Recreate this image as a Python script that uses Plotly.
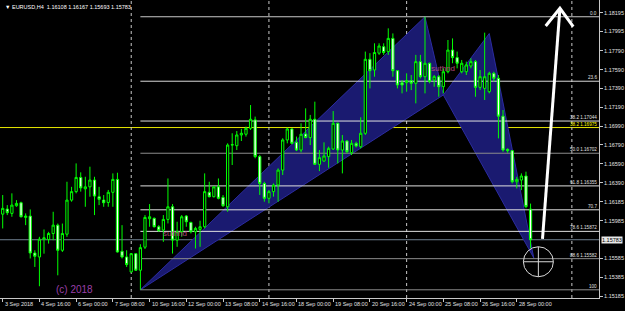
import plotly.graph_objects as go

# ---------------- data ----------------
bar_index = list(range(116))
open_ = [1.16055, 1.16109, 1.16063, 1.16144, 1.16176, 1.16020, 1.16034, 1.15642, 1.15600, 1.15789,
         1.15785, 1.15849, 1.15938, 1.15671, 1.15842, 1.16204, 1.16294, 1.16445, 1.16324, 1.16345,
         1.16417, 1.16240, 1.16204, 1.16179, 1.16287, 1.16424, 1.15660, 1.15600, 1.15441, 1.15635,
         1.15459, 1.15704, 1.16006, 1.16010, 1.15921, 1.15886, 1.15999, 1.16133, 1.15779, 1.15868,
         1.16035, 1.15967, 1.15868, 1.15893, 1.15921, 1.16287, 1.16240, 1.16345, 1.16233, 1.16133,
         1.16789, 1.16782, 1.16896, 1.16904, 1.16967, 1.17056, 1.16666, 1.16381, 1.16223, 1.16294,
         1.16364, 1.16523, 1.16843, 1.16960, 1.16818, 1.16736, 1.16907, 1.16868, 1.17063, 1.16584,
         1.16619, 1.16666, 1.16747, 1.17020, 1.16736, 1.16832, 1.16707, 1.16807, 1.16771, 1.16914,
         1.17700, 1.17586, 1.17765, 1.17834, 1.17782, 1.17922, 1.17579, 1.17452, 1.17452, 1.17473,
         1.17445, 1.17675, 1.17515, 1.17658, 1.17480, 1.17515, 1.17409, 1.17568, 1.17798, 1.17718,
         1.17568, 1.17568, 1.17629, 1.17675, 1.17402, 1.17391, 1.17356, 1.17551, 1.17498, 1.17096,
         1.16743, 1.16729, 1.16399, 1.16417, 1.16460, 1.16108]
high = [1.16258, 1.16151, 1.16276, 1.16204, 1.16187, 1.16063, 1.16105, 1.15671, 1.15814, 1.15892,
        1.15867, 1.16080, 1.15955, 1.15955, 1.16399, 1.16345, 1.16594, 1.16499, 1.16452, 1.16559,
        1.16452, 1.16345, 1.16258, 1.16312, 1.16488, 1.16495, 1.15938, 1.15671, 1.15642, 1.15642,
        1.15735, 1.16045, 1.16162, 1.16020, 1.15938, 1.16045, 1.16434, 1.16162, 1.15974, 1.16045,
        1.16045, 1.15974, 1.15921, 1.15985, 1.16488, 1.16399, 1.16352, 1.16434, 1.16258, 1.16807,
        1.16914, 1.16938, 1.16960, 1.16985, 1.17214, 1.17091, 1.16684, 1.16399, 1.16312, 1.16381,
        1.16541, 1.16861, 1.16974, 1.16967, 1.16879, 1.17020, 1.17179, 1.17109, 1.17250, 1.16736,
        1.16818, 1.16772, 1.17150, 1.17027, 1.16896, 1.16843, 1.16843, 1.16825, 1.17084, 1.17782,
        1.17765, 1.17870, 1.17870, 1.17870, 1.18029, 1.17975, 1.17586, 1.17480, 1.17551, 1.17533,
        1.17747, 1.17747, 1.18152, 1.17665, 1.17533, 1.17533, 1.17604, 1.17905, 1.17922, 1.17782,
        1.17693, 1.17675, 1.17711, 1.17693, 1.17586, 1.17983, 1.17568, 1.17568, 1.17533, 1.17161,
        1.16754, 1.16736, 1.16452, 1.16488, 1.16506, 1.16167]
low = [1.15903, 1.16045, 1.16027, 1.16133, 1.16020, 1.15938, 1.15584, 1.15494, 1.15289, 1.15635,
       1.15742, 1.15778, 1.15405, 1.15653, 1.15814, 1.16187, 1.16276, 1.16294, 1.16133, 1.16240,
       1.16045, 1.16151, 1.16133, 1.16133, 1.16133, 1.15646, 1.15584, 1.15494, 1.15434, 1.15452,
       1.15251, 1.15684, 1.15921, 1.15914, 1.15868, 1.15761, 1.15956, 1.15636, 1.15708, 1.15815,
       1.15921, 1.15850, 1.15690, 1.15708, 1.15904, 1.16233, 1.16233, 1.16212, 1.16133, 1.16081,
       1.16577, 1.16736, 1.16832, 1.16879, 1.16949, 1.16648, 1.16259, 1.16187, 1.16170, 1.16241,
       1.16187, 1.16471, 1.16807, 1.16797, 1.16725, 1.16711, 1.16861, 1.16789, 1.16577, 1.16512,
       1.16612, 1.16548, 1.16736, 1.16594, 1.16488, 1.16701, 1.16683, 1.16764, 1.16754, 1.16896,
       1.17391, 1.17515, 1.17747, 1.17747, 1.17747, 1.17515, 1.17391, 1.17338, 1.17356, 1.17373,
       1.17232, 1.17497, 1.17338, 1.17445, 1.17409, 1.17302, 1.17338, 1.17551, 1.17658, 1.17604,
       1.17551, 1.17533, 1.17604, 1.17302, 1.17373, 1.17268, 1.17338, 1.17463, 1.16860, 1.16718,
       1.16707, 1.16381, 1.16328, 1.16310, 1.16117, 1.15693]
close = [1.16116, 1.16070, 1.16151, 1.16169, 1.16027, 1.16034, 1.15642, 1.15607, 1.15789, 1.15803,
         1.15849, 1.15938, 1.15671, 1.15849, 1.16204, 1.16294, 1.16445, 1.16334, 1.16345, 1.16417,
         1.16247, 1.16212, 1.16176, 1.16287, 1.16424, 1.15653, 1.15600, 1.15519, 1.15635, 1.15459,
         1.15699, 1.16020, 1.16027, 1.15921, 1.15879, 1.15999, 1.16133, 1.15779, 1.15868, 1.16027,
         1.15974, 1.15868, 1.15904, 1.15921, 1.16294, 1.16240, 1.16345, 1.16223, 1.16144, 1.16789,
         1.16793, 1.16896, 1.16914, 1.16967, 1.17063, 1.16666, 1.16381, 1.16223, 1.16294, 1.16364,
         1.16523, 1.16843, 1.16960, 1.16807, 1.16736, 1.16904, 1.16868, 1.17063, 1.16584, 1.16655,
         1.16673, 1.16754, 1.17020, 1.16736, 1.16832, 1.16718, 1.16807, 1.16778, 1.16914, 1.17700,
         1.17579, 1.17772, 1.17841, 1.17772, 1.17922, 1.17579, 1.17427, 1.17427, 1.17473, 1.17445,
         1.17675, 1.17515, 1.17658, 1.17463, 1.17515, 1.17409, 1.17568, 1.17798, 1.17718, 1.17658,
         1.17658, 1.17640, 1.17675, 1.17402, 1.17515, 1.17515, 1.17551, 1.17498, 1.17096, 1.16736,
         1.16729, 1.16399, 1.16424, 1.16460, 1.16135, 1.15783]

date_tick_index = [0, 8, 16, 24, 32, 40, 48, 56, 64, 72, 80, 88, 96, 104, 112]
date_tick_text = ["3 Sep 2018", "4 Sep 16:00", "6 Sep 00:00", "7 Sep 08:00", "10 Sep 16:00",
                  "12 Sep 00:00", "13 Sep 08:00", "14 Sep 16:00", "18 Sep 00:00", "19 Sep 08:00",
                  "20 Sep 16:00", "24 Sep 00:00", "25 Sep 08:00", "26 Sep 16:00", "28 Sep 00:00"]
price_ticks = [1.18195, 1.17995, 1.17790, 1.17590, 1.17390, 1.17190, 1.16990, 1.16790,
               1.16590, 1.16390, 1.16185, 1.15985, 1.15585, 1.15385, 1.15185]
week_separators = [28, 58, 88, 124]

bid_price = 1.15783
header_text = "\u25bc EURUSD,H4  1.16108 1.16167 1.15693 1.15783"

fib_start_index = 30
fib_prices = [1.18152, 1.17467, 1.17044, 1.16702, 1.16355, 1.16101, 1.15872, 1.15582, 1.15251]
fib_labels = ["0.0", "23.6", "38.2 1.17044", "50.0 1.16702", "61.8 1.16355", "70.7",
              "78.6 1.15872", "88.6 1.15582", "100"]
fib_colors = ["#c8c8c8", "#d8d8d8", "#e0e0e0", "#8c8c8c", "#e0e0e0", "#e0e0e0",
              "#e0e0e0", "#8c8c8c", "#8c8c8c"]
yellow_price = 1.16975
yellow_label = "38.2 1.16975"

# harmonic pattern points X, A, B, C, D
pat_index = [30, 92, 96, 106, 115.7]
pat_price = [1.15251, 1.18152, 1.17321, 1.17974, 1.15590]

target_circle = (116.7, 1.15549)
arrow_index = [117.6, 121.4, None, 118.3, 121.4, 124.3]
arrow_price = [1.15791, 1.18242, None, 1.18054, 1.18242, 1.18046]

text_labels = [(37.5, 1.15854, "suthnd"), (95.9, 1.17597, "suthnd")]

x_range = [-0.588, 129.91]
y_range = [1.15164, 1.18330]

FONT = "Liberation Sans"
LIME = "#00ff00"

fig = go.Figure()
fig.add_trace(go.Candlestick(
    x=bar_index, open=open_, high=high, low=low, close=close,
    increasing=dict(line=dict(color=LIME, width=1), fillcolor="black"),
    decreasing=dict(line=dict(color=LIME, width=1), fillcolor="white"),
    whiskerwidth=0, hoverinfo="skip", showlegend=False))

fig.add_trace(go.Scatter(x=arrow_index, y=arrow_price, mode="lines",
                         line=dict(color="white", width=3), hoverinfo="skip",
                         showlegend=False))

shapes = []
# pattern triangles
for tri in ([0, 1, 2], [2, 3, 4]):
    path = "M {},{} L {},{} L {},{} Z".format(
        pat_index[tri[0]], pat_price[tri[0]], pat_index[tri[1]], pat_price[tri[1]],
        pat_index[tri[2]], pat_price[tri[2]])
    shapes.append(dict(type="path", path=path, xref="x", yref="y", layer="below",
                       fillcolor="rgb(26,26,112)", line=dict(color="#2c2ca0", width=1)))
# fib levels
for p, c in zip(fib_prices, fib_colors):
    shapes.append(dict(type="line", xref="x", yref="y", x0=fib_start_index, x1=x_range[1],
                       y0=p, y1=p, layer="below", line=dict(color=c, width=1)))
shapes.append(dict(type="line", xref="paper", yref="y", x0=0, x1=1, y0=yellow_price,
                   y1=yellow_price, layer="below", line=dict(color="#e8e800", width=1)))
# bid line
shapes.append(dict(type="line", xref="paper", yref="y", x0=0, x1=1, y0=bid_price,
                   y1=bid_price, layer="below", line=dict(color="#708090", width=1)))
# week separators
for s in week_separators:
    shapes.append(dict(type="line", xref="x", yref="paper", x0=s, x1=s, y0=0, y1=1,
                       layer="below", line=dict(color="#c8c8c8", width=1, dash="dot")))
# target circle with crosshair
cx, cy = target_circle
shapes.append(dict(type="circle", xref="x", yref="y", xsizemode="pixel", ysizemode="pixel",
                   xanchor=cx, yanchor=cy, x0=-15, x1=15, y0=-15, y1=15,
                   line=dict(color="#d8d8d8", width=1)))
shapes.append(dict(type="line", xref="x", yref="y", xsizemode="pixel", ysizemode="pixel",
                   xanchor=cx, yanchor=cy, x0=-15, x1=15, y0=0, y1=0,
                   line=dict(color="#d8d8d8", width=1)))
shapes.append(dict(type="line", xref="x", yref="y", xsizemode="pixel", ysizemode="pixel",
                   xanchor=cx, yanchor=cy, x0=0, x1=0, y0=-15, y1=15,
                   line=dict(color="#d8d8d8", width=1)))

annotations = []
for i, t in zip(date_tick_index, date_tick_text):
    annotations.append(dict(x=i, y=0, xref="x", yref="paper", text=t, showarrow=False,
                            xanchor="left", yanchor="top", xshift=0, yshift=-1,
                            font=dict(family=FONT, size=5.5, color="#e0e0e0")))
for p, lab, c in zip(fib_prices, fib_labels, fib_colors):
    annotations.append(dict(x=1, y=p, xref="paper", yref="y", text=lab, showarrow=False,
                            xanchor="right", yanchor="bottom", xshift=-1, yshift=0,
                            borderpad=0,
                            font=dict(family=FONT, size=4.6, color="#e0e0e0")))
annotations.append(dict(x=1, y=yellow_price, xref="paper", yref="y", text=yellow_label,
                        showarrow=False, xanchor="right", yanchor="bottom", xshift=-1,
                        yshift=0, borderpad=0,
                        font=dict(family=FONT, size=4.6, color="#ffff00")))
annotations.append(dict(x=1, y=bid_price, xref="paper", yref="y", text=str(bid_price),
                        showarrow=False, xanchor="left", yanchor="middle", xshift=2,
                        bgcolor="#e8e8e8", borderpad=0,
                        font=dict(family=FONT, size=5.5, color="black")))
annotations.append(dict(x=0, y=1, xref="paper", yref="paper", text=header_text,
                        showarrow=False, xanchor="left", yanchor="top", xshift=3, yshift=-2,
                        font=dict(family=FONT, size=5.5, color="white")))
annotations.append(dict(x=0.125, y=0.03, xref="paper", yref="paper", text="(c) 2018",
                        showarrow=False, xanchor="center", yanchor="middle",
                        font=dict(family=FONT, size=10, color="#9a3fa8")))
for xi, yp, t in text_labels:
    annotations.append(dict(x=xi, y=yp, xref="x", yref="y", text=t, showarrow=False,
                            xanchor="center", yanchor="middle",
                            font=dict(family=FONT, size=8, color="#b04a78")))

fig.update_layout(
    width=625, height=311, margin=dict(l=0, r=26, t=0, b=13),
    paper_bgcolor="black", plot_bgcolor="black",
    shapes=shapes, annotations=annotations, showlegend=False,
    xaxis=dict(range=x_range, showgrid=False, zeroline=False, showline=True,
               linecolor="#c8c8c8", linewidth=1, ticks="outside", ticklen=3,
               tickcolor="#c8c8c8", tickvals=date_tick_index, showticklabels=False,
               rangeslider=dict(visible=False), fixedrange=True),
    yaxis=dict(range=y_range, side="right", showgrid=False, zeroline=False, showline=True,
               linecolor="#c8c8c8", linewidth=1, ticks="outside", ticklen=3,
               tickcolor="#c8c8c8", tickvals=price_ticks,
               ticktext=["{:.5f}".format(v) for v in price_ticks],
               tickfont=dict(family=FONT, size=5.5, color="#e0e0e0"), fixedrange=True),
)

fig.write_html("out.html")
